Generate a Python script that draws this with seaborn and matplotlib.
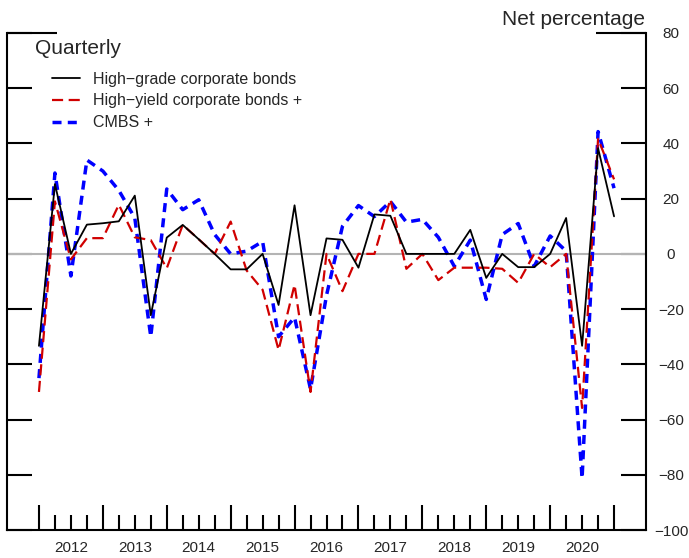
import numpy as np
import pandas as pd
import matplotlib
matplotlib.use("Agg")
import matplotlib.pyplot as plt
import seaborn as sns

# quarterly readings, first point sits on the 2012 boundary, last on 2021
first_year = 2012
high_grade = [-33.3, 25.3, 0.0, 10.6, 11.1, 11.8, 21.1, -22.2, 5.9, 10.5,
              5.3, 0.0, -5.6, -5.6, 0.0, -18.5, 17.6, -22.2, 5.6, 5.1,
              -5.0, 14.3, 13.8, 0.0, 0.0, 0.0, 0.0, 8.7, -8.7, 0.0,
              -4.8, -4.8, 0.0, 13.0, -33.3, 38.3, 13.6]
high_yield = [-50.0, 19.0, -2.0, 5.7, 5.7, 17.8, 6.0, 5.0, -5.2, 10.5,
              5.3, 0.0, 11.7, -6.0, -13.0, -34.8, -11.2, -50.0, 0.0, -13.5,
              0.0, 0.0, 19.8, -5.4, 0.0, -9.5, -5.0, -5.0, -5.0, -5.4,
              -10.5, 0.0, -4.8, 0.0, -55.8, 41.7, 27.0]
cmbs = [-45.0, 29.3, -8.0, 34.0, 30.0, 23.0, 13.0, -30.0, 23.5, 16.0,
        19.6, 7.0, 0.0, 1.0, 4.5, -30.0, -23.0, -49.0, -15.0, 10.0,
        17.5, 13.5, 19.0, 11.5, 12.5, 6.0, -4.5, 5.0, -16.5, 7.0,
        11.0, -4.5, 6.5, 1.0, -81.3, 44.3, 23.8]

series_names = ["High\u2212grade corporate bonds",
                "High\u2212yield corporate bonds +",
                "CMBS +"]
y_ticks = list(range(-100, 81, 20))

t = [first_year + q / 4 for q in range(len(high_grade))]
df = pd.DataFrame({"t": t, series_names[0]: high_grade,
                   series_names[1]: high_yield, series_names[2]: cmbs})

sns.set_theme(style="white")
plt.rcParams["font.family"] = ["Liberation Sans", "DejaVu Sans"]
plt.rcParams["lines.scale_dashes"] = False

fig = plt.figure(figsize=(6.89, 5.58), dpi=100)
ax = fig.add_axes([7 / 689, 28 / 558, 639 / 689, 497 / 558])

ax.axhline(0, color="#b4b4b4", lw=1.5, zorder=1)

sns.lineplot(data=df, x="t", y=series_names[0], color="black", linewidth=1.3,
             label=series_names[0], ax=ax, zorder=4)
sns.lineplot(data=df, x="t", y=series_names[1], color="#d00000", linewidth=1.6,
             linestyle=(0, (8, 4)), label=series_names[1], ax=ax, zorder=3)
sns.lineplot(data=df, x="t", y=series_names[2], color="#0000ff", linewidth=2.5,
             linestyle=(0, (6.5, 4.5)), label=series_names[2], ax=ax, zorder=2)

ax.set_xlim(2011.5, 2021.5)
ax.set_ylim(-100, 80)
ax.set_xlabel("")
ax.set_ylabel("")

# year boundaries as long ticks, quarters as short ones, year names in the middle
ax.set_xticks(range(2012, 2022))
minor = []
minor_lab = []
for y in range(2012, 2021):
    for q in (1, 2, 3):
        minor.append(y + q / 4)
        minor_lab.append(str(y) if q == 2 else "")
ax.set_xticks(minor, minor=True)
ax.set_xticklabels(minor_lab, minor=True)
ax.tick_params(axis="x", which="major", direction="in", length=18, width=1.5,
               color="black", bottom=True, labelbottom=False)
ax.tick_params(axis="x", which="minor", direction="in", length=10.5, width=1.5,
               color="black", bottom=True, labelsize=11, pad=8)

ax.set_yticks(y_ticks)
ax.set_yticklabels([str(v).replace("-", "\u2212") for v in y_ticks])
ax.tick_params(axis="y", direction="in", length=18, width=1.5, color="black",
               left=True, right=True, labelleft=False, labelright=True,
               labelsize=11, pad=18)
for lab in ax.get_yticklabels():
    lab.set_horizontalalignment("center")

for side in ["left", "right", "bottom"]:
    ax.spines[side].set_color("black")
    ax.spines[side].set_linewidth(1.5)
ax.spines["top"].set_visible(False)

# short top border pieces at the corners
ax.plot([0, 50 / 639], [1, 1], transform=ax.transAxes, color="black",
        lw=1.5, clip_on=False, solid_capstyle="butt")
ax.plot([1 - 50 / 639, 1], [1, 1], transform=ax.transAxes, color="black",
        lw=1.5, clip_on=False, solid_capstyle="butt")

ax.text(28 / 639, 0.968, "Quarterly", transform=ax.transAxes, fontsize=15,
        ha="left", va="center")
ax.legend(loc="upper left", bbox_to_anchor=(45 / 639, 0.922), frameon=False,
          fontsize=11.5, handlelength=1.75, handletextpad=0.8,
          labelspacing=0.42, borderpad=0, borderaxespad=0)

fig.text(645 / 689, 1 - 25 / 558, "Net percentage", ha="right",
         va="baseline", fontsize=15)

fig.savefig("out.png", dpi=100)
